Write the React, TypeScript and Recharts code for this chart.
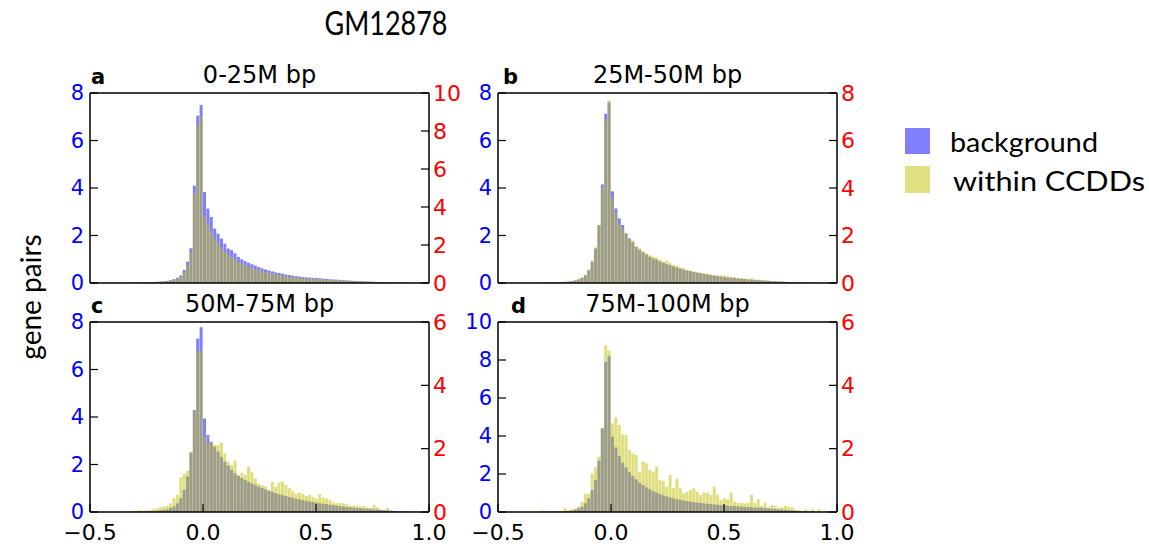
import { ComposedChart, Bar, XAxis, YAxis } from 'recharts'

// histogram bins: left edge = (FIRST_BIN + i) * BIN_WIDTH
const FIRST_BIN = -27
const BIN_WIDTH = 0.015

const X_TICKS = [-0.5, 0, 0.5, 1.0]

// panel a: 0-25M bp
const bgA = [
  0.003, 0.004, 0.005, 0.007, 0.009, 0.011, 0.014, 0.017, 0.02, 0.025,
  0.03, 0.035, 0.042, 0.05, 0.06, 0.075, 0.09, 0.12, 0.16, 0.22,
  0.32, 0.55, 0.9, 1.46, 4.1, 7.05, 7.5,
  3.83, 3.13, 2.78, 2.29, 2.08, 1.87, 1.66, 1.45, 1.38, 1.25,
  1.1, 1.0, 0.92, 0.85, 0.79, 0.73, 0.67, 0.62, 0.57, 0.53,
  0.49, 0.45, 0.42, 0.39, 0.36, 0.34, 0.31, 0.29, 0.27, 0.25,
  0.24, 0.23, 0.22, 0.21, 0.2, 0.18, 0.17, 0.16, 0.15, 0.14,
  0.13, 0.12, 0.11, 0.1, 0.09, 0.085, 0.08, 0.07, 0.065, 0.06,
  0.05, 0.045, 0.04, 0.035, 0.03, 0.028, 0.025, 0.02, 0.018, 0.015,
  0.012, 0.01, 0.008, 0.006, 0.004, 0.002,
]
const ccA = [
  0.003, 0.004, 0.006, 0.008, 0.01, 0.012, 0.015, 0.018, 0.022, 0.027,
  0.032, 0.038, 0.045, 0.055, 0.065, 0.08, 0.1, 0.13, 0.17, 0.23,
  0.34, 0.58, 0.95, 1.6, 4.7, 8.3, 8.8,
  3.49, 3.16, 2.74, 2.37, 2.1, 1.89, 1.68, 1.5, 1.37, 1.24,
  1.12, 1.02, 0.93, 0.86, 0.8, 0.74, 0.68, 0.63, 0.58, 0.54,
  0.5, 0.46, 0.43, 0.4, 0.37, 0.35, 0.32, 0.3, 0.28, 0.26,
  0.25, 0.24, 0.23, 0.22, 0.21, 0.19, 0.18, 0.17, 0.16, 0.15,
  0.14, 0.13, 0.12, 0.11, 0.1, 0.09, 0.085, 0.075, 0.07, 0.065,
  0.055, 0.05, 0.045, 0.04, 0.035, 0.03, 0.027, 0.022, 0.02, 0.016,
  0.013, 0.011, 0.009, 0.007, 0.005, 0.003,
]

// panel b: 25M-50M bp
const bgB = [
  0.002, 0.003, 0.004, 0.006, 0.008, 0.01, 0.01, 0.015, 0.02, 0.02,
  0.03, 0.03, 0.04, 0.05, 0.06, 0.08, 0.11, 0.15, 0.22, 0.32,
  0.53, 0.9, 1.45, 2.43, 4.15, 7.13, 7.6,
  3.86, 3.14, 2.72, 2.44, 2.09, 1.88, 1.72, 1.52, 1.4, 1.29,
  1.19, 1.11, 1.04, 0.98, 0.91, 0.85, 0.8, 0.75, 0.7, 0.66,
  0.61, 0.57, 0.53, 0.5, 0.46, 0.43, 0.41, 0.38, 0.36, 0.33,
  0.31, 0.29, 0.27, 0.25, 0.24, 0.22, 0.21, 0.19, 0.18, 0.17,
  0.15, 0.14, 0.13, 0.12, 0.11, 0.1, 0.09, 0.08, 0.07, 0.065,
  0.06, 0.05, 0.045, 0.04, 0.035, 0.03, 0.025, 0.02, 0.02, 0.015,
  0.01, 0.01, 0.008, 0.005, 0.003, 0.002,
]
const ccB = [
  0.002, 0.003, 0.004, 0.006, 0.008, 0.01, 0.012, 0.015, 0.02, 0.02,
  0.03, 0.04, 0.04, 0.05, 0.07, 0.09, 0.12, 0.17, 0.24, 0.36,
  0.58, 0.95, 1.5, 2.45, 4.0, 6.9, 7.7,
  3.6, 2.95, 2.5, 2.3, 2.09, 1.84, 1.8, 1.56, 1.46, 1.35,
  1.25, 1.18, 1.11, 1.07, 0.97, 0.9, 0.93, 0.83, 0.76, 0.72,
  0.66, 0.62, 0.55, 0.52, 0.49, 0.46, 0.44, 0.41, 0.38, 0.36,
  0.34, 0.32, 0.31, 0.32, 0.28, 0.25, 0.24, 0.22, 0.21, 0.18,
  0.18, 0.2, 0.15, 0.14, 0.13, 0.13, 0.1, 0.08, 0.08, 0.06,
  0.07, 0.04, 0.04, 0.03, 0.06, 0.02, 0.02, 0.015, 0.01, 0.01,
  0.01, 0.005, 0.005, 0.003, 0, 0,
]

// panel c: 50M-75M bp
const bgC = [
  0, 0, 0.002, 0.005, 0.008, 0.01, 0.012, 0.015, 0.02, 0.025,
  0.03, 0.035, 0.045, 0.055, 0.07, 0.09, 0.12, 0.17, 0.24, 0.36,
  0.58, 0.93, 1.5, 2.5, 4.3, 7.3, 7.78,
  3.94, 3.24, 2.96, 2.75, 2.54, 2.32, 2.12, 1.95, 1.78, 1.63,
  1.52, 1.43, 1.35, 1.27, 1.2, 1.14, 1.07, 1.01, 0.95, 0.9,
  0.85, 0.8, 0.75, 0.71, 0.67, 0.63, 0.6, 0.56, 0.53, 0.5,
  0.47, 0.44, 0.42, 0.39, 0.37, 0.35, 0.33, 0.31, 0.29, 0.27,
  0.25, 0.23, 0.21, 0.2, 0.18, 0.17, 0.16, 0.15, 0.14, 0.12,
  0.11, 0.1, 0.09, 0.08, 0.07, 0.06, 0.05, 0.04, 0.03, 0.025,
  0.02, 0.015, 0.01, 0.005, 0.003, 0,
]
const ccC = [
  0, 0, 0, 0.01, 0.03, 0.02, 0.04, 0.03, 0.06, 0.04,
  0.05, 0.06, 0.09, 0.12, 0.15, 0.17, 0.19, 0.27, 0.43, 0.54,
  1.1, 1.2, 1.3, 1.9, 3.2, 5.06, 5.1,
  2.38, 2.17, 2.22, 2.12, 2.12, 2.19, 1.85, 1.59, 1.48, 1.62,
  1.17, 1.24, 1.17, 1.43, 1.27, 1.06, 0.9, 0.85, 0.8, 0.68,
  0.96, 0.8, 0.93, 0.96, 0.85, 0.75, 0.66, 0.58, 0.61, 0.57,
  0.51, 0.54, 0.48, 0.42, 0.57, 0.46, 0.43, 0.38, 0.3, 0.28,
  0.29, 0.27, 0.25, 0.2, 0.2, 0.2, 0.17, 0.19, 0.14, 0.13,
  0.22, 0.15, 0.08, 0.06, 0.13, 0.04, 0.02, 0.01, 0.02, 0.01,
  0.02, 0, 0, 0, 0, 0,
]

// panel d: 75M-100M bp
const bgD = [
  0, 0, 0, 0, 0, 0, 0, 0.005, 0.008, 0.01,
  0.015, 0.02, 0.03, 0.04, 0.05, 0.08, 0.12, 0.19, 0.28, 0.46,
  0.72, 1.16, 1.68, 2.7, 4.4, 7.9, 8.2,
  3.96, 3.4, 2.95, 2.6, 2.35, 2.1, 1.9, 1.72, 1.55, 1.42,
  1.3, 1.2, 1.1, 1.02, 0.95, 0.88, 0.82, 0.77, 0.72, 0.68,
  0.64, 0.6, 0.57, 0.54, 0.51, 0.49, 0.47, 0.45, 0.43, 0.41,
  0.4, 0.38, 0.37, 0.35, 0.34, 0.32, 0.31, 0.3, 0.28, 0.27,
  0.26, 0.25, 0.24, 0.23, 0.22, 0.2, 0.19, 0.17, 0.16, 0.14,
  0.13, 0.11, 0.1, 0.08, 0.07, 0.05, 0.04, 0.03, 0.02, 0.015,
  0.01, 0.005, 0.005, 0, 0, 0,
]
const ccD = [
  0, 0, 0, 0, 0, 0.01, 0.05, 0.03, 0.02, 0.01,
  0.02, 0.03, 0.02, 0.12, 0.05, 0.08, 0.12, 0.17, 0.32, 0.58,
  0.58, 1.21, 1.42, 1.75, 2.64, 5.27, 5.09,
  2.8, 2.99, 2.75, 2.45, 2.43, 1.96, 1.85, 1.8, 1.27, 1.59,
  1.54, 1.33, 1.27, 1.43, 1.01, 0.98, 0.8, 1.17, 0.75, 1.06,
  0.75, 0.59, 0.64, 0.69, 0.75, 0.64, 0.54, 0.61, 0.61, 0.54,
  0.8, 0.54, 0.38, 0.43, 0.4, 0.61, 0.33, 0.29, 0.29, 0.27,
  0.29, 0.54, 0.29, 0.4, 0.19, 0.29, 0.15, 0.22, 0.19, 0.12,
  0.15, 0.19, 0.15, 0.15, 0.06, 0.06, 0.01, 0.08, 0.01, 0.08,
  0.01, 0.08, 0, 0.04, 0, 0,
]

const PLOT_W = 339
const PLOT_H = 190
const AXIS_W = 60
const TOP_H = 20
const BOTTOM_H = 35

const FONT = 'DejaVu Sans'
const GILL = 'Lato'

interface PanelProps {
  left: number
  top: number
  bg: number[]
  cc: number[]
  leftMax: number
  rightMax: number
  showX: boolean
}

function ticksTo(max: number) {
  const t: number[] = []
  for (let v = 0; v <= max; v += 2) t.push(v)
  return t
}

const fmtX = (v: number) => (v < 0 ? '\u2212' + Math.abs(v).toFixed(1) : v.toFixed(1))

function Panel({ left, top, bg, cc, leftMax, rightMax, showX }: PanelProps) {
  const data = bg.map((v, i) => ({
    x: (FIRST_BIN + i + 0.5) * BIN_WIDTH,
    bg: v,
    cc: cc[i],
  }))
  return (
    <div style={{ position: 'absolute', left: left - AXIS_W, top: top - TOP_H }}>
      <ComposedChart
        width={PLOT_W + 2 * AXIS_W}
        height={PLOT_H + TOP_H + BOTTOM_H}
        data={data}
        margin={{ top: 0, right: 0, bottom: 0, left: 0 }}
        barCategoryGap={0}
        barGap={0}
      >
        <XAxis
          xAxisId="bot"
          dataKey="x"
          type="number"
          orientation="bottom"
          domain={[-0.5, 1.0]}
          allowDataOverflow
          ticks={X_TICKS}
          interval={0}
          height={BOTTOM_H}
          tickSize={-8}
          tickMargin={20}
          tickFormatter={fmtX}
          axisLine={{ stroke: '#000', strokeWidth: 1.5 }}
          tickLine={{ stroke: '#000', strokeWidth: 1.2 }}
          tick={showX ? { fill: '#000', fontSize: 22, fontFamily: FONT } : false}
        />
        <XAxis
          xAxisId="top"
          dataKey="x"
          type="number"
          orientation="top"
          domain={[-0.5, 1.0]}
          allowDataOverflow
          ticks={X_TICKS}
          interval={0}
          height={TOP_H}
          tickSize={-8}
          axisLine={{ stroke: '#000', strokeWidth: 1.5 }}
          tickLine={{ stroke: '#000', strokeWidth: 1.2 }}
          tick={false}
        />
        <YAxis
          yAxisId="left"
          orientation="left"
          width={AXIS_W}
          domain={[0, leftMax]}
          allowDataOverflow
          ticks={ticksTo(leftMax)}
          interval={0}
          tickSize={-8}
          tickMargin={14}
          axisLine={{ stroke: '#000', strokeWidth: 1.5 }}
          tickLine={{ stroke: '#000', strokeWidth: 1.2 }}
          tick={{ fill: '#0000ff', fontSize: 21, fontFamily: FONT }}
        />
        <YAxis
          yAxisId="right"
          orientation="right"
          width={AXIS_W}
          domain={[0, rightMax]}
          allowDataOverflow
          ticks={ticksTo(rightMax)}
          interval={0}
          tickSize={-8}
          tickMargin={12}
          axisLine={{ stroke: '#000', strokeWidth: 1.5 }}
          tickLine={{ stroke: '#000', strokeWidth: 1.2 }}
          tick={{ fill: '#ff0000', fontSize: 22, fontFamily: FONT }}
        />
        <Bar
          dataKey="bg"
          xAxisId="bot"
          yAxisId="left"
          fill="#0000ff"
          fillOpacity={0.5}
          isAnimationActive={false}
        />
        <Bar
          dataKey="cc"
          xAxisId="top"
          yAxisId="right"
          fill="#bfbf00"
          fillOpacity={0.5}
          isAnimationActive={false}
        />
      </ComposedChart>
    </div>
  )
}

const PANELS = [
  { key: 'a', title: '0-25M bp', left: 90, top: 93, bg: bgA, cc: ccA, leftMax: 8, rightMax: 10, showX: false, letterX: 91 },
  { key: 'b', title: '25M-50M bp', left: 498, top: 93, bg: bgB, cc: ccB, leftMax: 8, rightMax: 8, showX: false, letterX: 503 },
  { key: 'c', title: '50M-75M bp', left: 90, top: 322, bg: bgC, cc: ccC, leftMax: 8, rightMax: 6, showX: true, letterX: 91 },
  { key: 'd', title: '75M-100M bp', left: 498, top: 322, bg: bgD, cc: ccD, leftMax: 10, rightMax: 6, showX: true, letterX: 511 },
]

export default function App() {
  return (
    <div style={{ position: 'absolute', left: 0, top: 0, width: 1149, height: 547, background: '#fff', overflow: 'hidden' }}>
      {PANELS.map((p) => (
        <Panel
          key={p.key}
          left={p.left}
          top={p.top}
          bg={p.bg}
          cc={p.cc}
          leftMax={p.leftMax}
          rightMax={p.rightMax}
          showX={p.showX}
        />
      ))}
      <svg width={1149} height={547} style={{ position: 'absolute', left: 0, top: 0, pointerEvents: 'none' }}>
        <text x={386} y={35} textAnchor="middle" fontFamily={GILL} fontSize={33} fill="#000" textLength={123} lengthAdjust="spacingAndGlyphs">
          GM12878
        </text>
        {PANELS.map((p) => (
          <g key={p.key}>
            <text x={p.left + PLOT_W / 2} y={p.top - 10} textAnchor="middle" fontFamily={FONT} fontSize={24} fill="#000">
              {p.title}
            </text>
            <text x={p.letterX} y={p.top - 9} fontFamily={FONT} fontWeight="bold" fontSize={21} fill="#000">
              {p.key}
            </text>
          </g>
        ))}
        <text x={41} y={297} transform="rotate(-90 41 297)" textAnchor="middle" fontFamily={GILL} fontSize={28} fill="#000">
          gene pairs
        </text>
        <rect x={905} y={128} width={25} height={26} fill="#8080ff" />
        <rect x={905} y={166} width={25} height={27} fill="#e0e080" />
        <text x={950} y={152} fontFamily={GILL} fontSize={27} fill="#000" textLength={148} lengthAdjust="spacingAndGlyphs">
          background
        </text>
        <text x={953} y={191} fontFamily={GILL} fontSize={27} fill="#000" textLength={192} lengthAdjust="spacingAndGlyphs">
          within CCDDs
        </text>
      </svg>
    </div>
  )
}
